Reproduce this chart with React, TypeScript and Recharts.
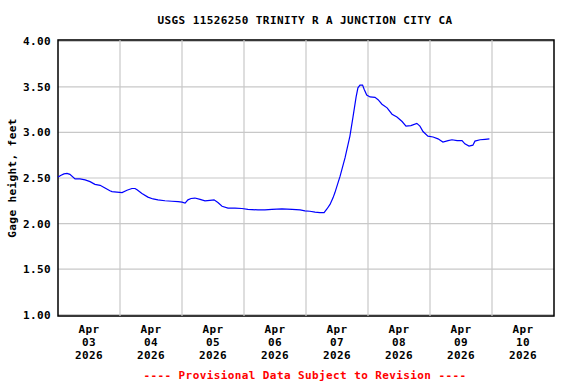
import { LineChart, Line, XAxis, YAxis, CartesianGrid, ReferenceLine, ReferenceArea, Label } from "recharts";

// hours since Apr 03 00:00
const hours = [
  0, 1.2, 2.3, 3.5, 4.6, 6.6, 8.5, 10.5, 12.4, 14.3, 16.3, 18.2, 20.1, 20.9, 22.8,
  24.8, 26.7, 28.6, 29.8, 30.6, 32.5, 34.8, 36.8, 38.7, 41.4, 44.1, 46.5, 48, 49.2,
  50.3, 51.5, 53, 55, 56.9, 58.8, 60.4, 61.9, 63.5, 65.8, 68.5, 71.2, 73.5, 77.4,
  80.1, 82.8, 86.7, 90.6, 93.7, 95.6, 97.5, 99.5, 101.4, 103, 104.1, 105.3, 106.5,
  107.2, 109.2, 111.1, 113, 114.2, 115.4, 116.1, 116.9, 117.9, 118.5, 119.5, 120.8,
  122.7, 123.9, 125.4, 127.4, 129.3, 131.2, 133.2, 134.7, 136.6, 138.9, 140.1, 141.3,
  143.2, 145.2, 147.1, 149, 151, 152.5, 154.5, 156.4, 157.5, 159.1, 160.6, 161.4,
  163.4, 165.3, 167,
];

// gage height, feet
const gageFt = [
  2.51, 2.53, 2.545, 2.55, 2.54, 2.49, 2.49, 2.48, 2.46, 2.43, 2.42, 2.39, 2.36, 2.35, 2.345,
  2.34, 2.365, 2.385, 2.385, 2.37, 2.33, 2.29, 2.27, 2.26, 2.25, 2.245, 2.24, 2.235, 2.225,
  2.26, 2.275, 2.28, 2.265, 2.25, 2.255, 2.26, 2.23, 2.19, 2.17, 2.17, 2.165, 2.155, 2.15,
  2.15, 2.155, 2.16, 2.155, 2.15, 2.14, 2.135, 2.125, 2.12, 2.12, 2.16, 2.21, 2.285,
  2.34, 2.52, 2.72, 2.96, 3.17, 3.39, 3.49, 3.52, 3.52, 3.475, 3.41, 3.39,
  3.385, 3.36, 3.31, 3.27, 3.2, 3.17, 3.12, 3.07, 3.075, 3.1, 3.07, 3.01,
  2.96, 2.95, 2.93, 2.895, 2.91, 2.92, 2.91, 2.91, 2.875, 2.85, 2.86, 2.905,
  2.92, 2.925, 2.93,
];

const dayLabels = ["03", "04", "05", "06", "07", "08", "09", "10"];
const dayNoons = [12, 36, 60, 84, 108, 132, 156, 180];
const midnights = [24, 48, 72, 96, 120, 144, 168];
const yTicks = [1, 1.5, 2, 2.5, 3, 3.5, 4];

const data = hours.map((h, i) => ({ h, v: gageFt[i] }));

const font = {
  fontFamily: "'DejaVu Sans Mono', monospace",
  fontWeight: "bold" as const,
  fontSize: 11,
  letterSpacing: 0.4,
};

function DayTick({ x, y, index }: any) {
  return (
    <text x={x} y={y} textAnchor="middle" fill="#000" style={font}>
      <tspan x={x} dy={17}>Apr</tspan>
      <tspan x={x} dy={13}>{dayLabels[index]}</tspan>
      <tspan x={x} dy={13}>2026</tspan>
    </text>
  );
}

function ValueTick({ x, y, payload }: any) {
  return (
    <text x={x} y={y} dy={4} textAnchor="end" fill="#000" style={font}>
      {payload.value.toFixed(2)}
    </text>
  );
}

export default function App() {
  return (
    <div style={{ position: "absolute", left: 0, top: 0, width: 576, height: 384, background: "#fff" }}>
      <LineChart width={576} height={384} data={data} margin={{ top: 40, right: 22, bottom: 8, left: 8 }}>
        <CartesianGrid vertical={false} stroke="#c8c8c8" strokeWidth={1.2} />
        {midnights.map((m) => (
          <ReferenceLine key={m} x={m} stroke="#c8c8c8" strokeWidth={1.2} />
        ))}
        <XAxis
          dataKey="h"
          type="number"
          domain={[0, 192]}
          ticks={dayNoons}
          interval={0}
          height={60}
          axisLine={false}
          tickLine={false}
          tickSize={0}
          tickMargin={0}
          tick={<DayTick />}
        />
        <YAxis
          type="number"
          domain={[0.985, 4.015]}
          ticks={yTicks}
          interval={0}
          width={50}
          axisLine={false}
          tickLine={false}
          tickSize={0}
          tickMargin={7}
          tick={<ValueTick />}
        >
          <Label
            content={({ viewBox }: any) => {
              const cx = viewBox.x + 4;
              const cy = viewBox.y + viewBox.height / 2;
              return (
                <text
                  x={cx}
                  y={cy}
                  transform={`rotate(-90 ${cx} ${cy})`}
                  textAnchor="middle"
                  dominantBaseline="central"
                  fill="#000"
                  style={font}
                >
                  Gage height, feet
                </text>
              );
            }}
          />
        </YAxis>
        <ReferenceArea x1={0} x2={192} y1={0.985} y2={4.015} fill="none" stroke="#000" strokeWidth={1.5} />
        <Line
          type="linear"
          dataKey="v"
          stroke="#0000ff"
          strokeWidth={1.2}
          dot={false}
          isAnimationActive={false}
        />
      </LineChart>
      <svg width={576} height={384} style={{ position: "absolute", left: 0, top: 0, pointerEvents: "none" }}>
        <text x={305} y={24} textAnchor="middle" fill="#000" style={font}>
          USGS 11526250 TRINITY R A JUNCTION CITY CA
        </text>
        <text x={305} y={379} textAnchor="middle" fill="#ff0000" style={font}>
          ---- Provisional Data Subject to Revision ----
        </text>
      </svg>
    </div>
  );
}
